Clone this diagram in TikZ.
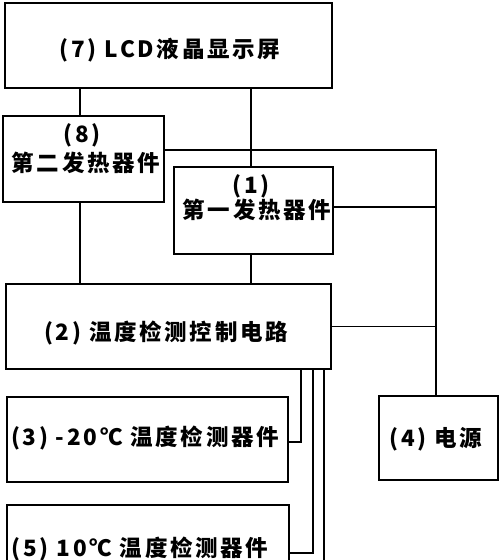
\documentclass[tikz,border=0pt]{standalone}
\usepackage{fontspec}
\newfontfamily\cjk[LetterSpace=12]{Noto Sans CJK SC}
\begin{document}
\begin{tikzpicture}[x=1pt,y=1pt,
  box/.style={draw=black,line width=1.6pt,rectangle,inner sep=0pt},
  lbl/.style={inner sep=0pt,font=\cjk\bfseries\fontsize{22.5}{26}\selectfont,text=black},
  wire/.style={draw=black,line width=1.3pt}]
\useasboundingbox[fill=white] (0,0) rectangle (500,560);
% boxes
\node[box,minimum width=327pt,minimum height=85pt] (b7) at (168.5,514.5) {};
\node[box,minimum width=161pt,minimum height=86pt] (b8) at (83.5,401) {};
\node[box,minimum width=159pt,minimum height=87pt] (b1) at (253.5,349.5) {};
\node[box,minimum width=325pt,minimum height=85pt] (b2) at (168.5,233.5) {};
\node[box,minimum width=281pt,minimum height=85pt] (b3) at (147.5,120.5) {};
\node[box,minimum width=119pt,minimum height=84pt] (b4) at (438.5,122) {};
\node[box,minimum width=282pt,minimum height=85pt] (b5) at (148,12.5) {};
% texts
\node[lbl] (t7) at (170,510) {(7) LCD液晶显示屏};
\node[lbl] (t8a) at (82,425) {(8)};
\node[lbl] (t8b) at (86,397) {第二发热器件};
\node[lbl] (t1a) at (251,374) {(1)};
\node[lbl] (t1b) at (257,350) {第一发热器件};
\node[lbl] (t2) at (166,227) {(2) 温度检测控制电路};
\node[lbl] (t3) at (145,122) {(3) -20℃ 温度检测器件};
\node[lbl] (t4) at (436,121) {(4) 电源};
\node[lbl] (t5) at (140,11) {(5) 10℃ 温度检测器件};
% coordinates
\coordinate (xa) at (80,0);
\coordinate (xb) at (251,0);
\coordinate (xr) at (436,0);
\coordinate (xc) at (301,0);
\coordinate (xd) at (313,0);
\coordinate (xe) at (324,0);
\coordinate (bot) at (324,-20);
\coordinate (p8) at ([yshift=9pt]b8.east);
\coordinate (p1) at ([yshift=3.5pt]b1.east);
\coordinate (p3) at ([yshift=-2.5pt]b3.east);
\coordinate (p5) at ([yshift=-5.5pt]b5.east);
% connectors
\draw[wire] (xa |- b7.south) -- (xa |- b8.north);
\draw[wire] (xb |- b7.south) -- (xb |- b1.north);
\draw[wire] (xa |- b8.south) -- (xa |- b2.north);
\draw[wire] (xb |- b1.south) -- (xb |- b2.north);
\draw[wire] (p8) -- (xr |- p8) -- (xr |- b4.north);
\draw[wire] (p1) -- (xr |- p1);
\draw[wire] (b2.east) -- (xr |- b2.east);
\draw[wire] (xc |- b2.south) -- (xc |- p3) -- (p3);
\draw[wire] (xd |- b2.south) -- (xd |- p5) -- (p5);
\draw[wire] (xe |- b2.south) -- (bot);
\end{tikzpicture}
\end{document}
